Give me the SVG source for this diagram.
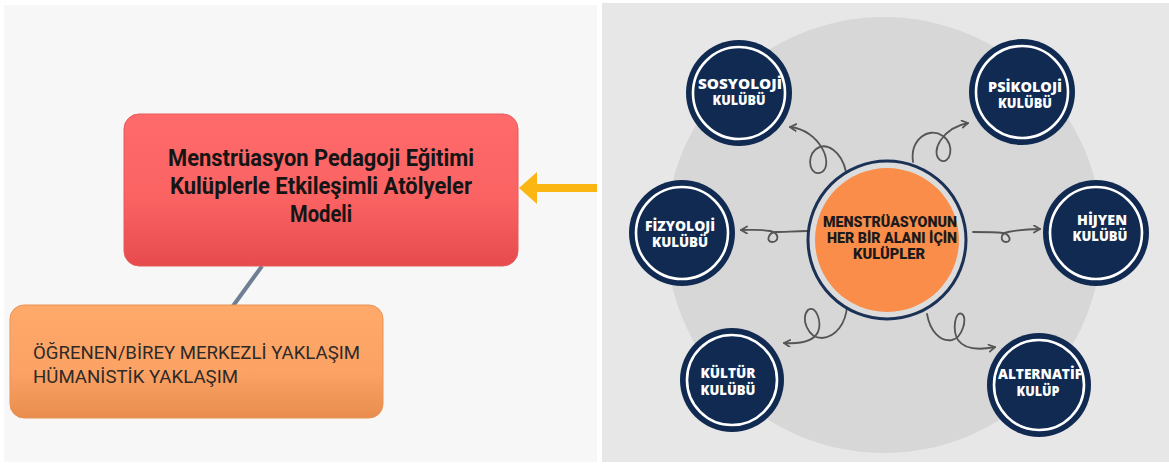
<svg xmlns="http://www.w3.org/2000/svg" width="1169" height="465" viewBox="0 0 1169 465">
<defs>
<linearGradient id="gRed" x1="0" y1="0" x2="0" y2="1">
<stop offset="0" stop-color="#ff6a6a"/><stop offset="0.55" stop-color="#fb6363"/><stop offset="1" stop-color="#e64a4d"/>
</linearGradient>
<linearGradient id="gOr" x1="0" y1="0" x2="0" y2="1">
<stop offset="0" stop-color="#ffa96a"/><stop offset="0.6" stop-color="#fba264"/><stop offset="1" stop-color="#e88d4d"/>
</linearGradient>
<marker id="ah" markerWidth="10" markerHeight="10" refX="7" refY="4" orient="auto" markerUnits="userSpaceOnUse">
<path d="M1,0.5 L7,4 L1,7.5" fill="none" stroke="#555" stroke-width="1.8" stroke-linecap="round" stroke-linejoin="round"/>
</marker>
</defs>
<style>
.lt{font-family:Roboto,"Liberation Sans",sans-serif;font-weight:700;font-size:24px;fill:#151515;text-anchor:middle}
.ot{font-family:Roboto,"Liberation Sans",sans-serif;font-size:19px;fill:#2e2a28}
.sat{fill:#102a52}
.ring{fill:none;stroke:#fff;stroke-width:2.6}
.wt{font-family:"Open Sans","Liberation Sans",sans-serif;font-weight:800;font-size:14px;fill:#fff;text-anchor:middle}
.ct{font-family:Roboto,"Liberation Sans",sans-serif;font-weight:900;font-size:15px;fill:#1c1a1a;text-anchor:middle}
.cur{fill:none;stroke:#555;stroke-width:1.8;stroke-linecap:round;marker-end:url(#ah)}
</style>
<rect width="1169" height="465" fill="#ffffff"/>
<rect x="4" y="5" width="593" height="457" fill="#f7f7f7"/>
<rect x="602" y="3" width="567" height="459" fill="#e7e7e7"/>
<circle cx="884" cy="235" r="218" fill="#d7d7d8"/>

<g id="connectors">
<line x1="262" y1="266" x2="233" y2="306" stroke="#6f7f93" stroke-width="4"/>
<polygon points="519,188 537,172 537,184 597,184 597,192 537,192 537,204" fill="#fcb614"/>
<path class="cur" d="M846,172 C842,152 826,140 815,150 C806,158 810,178 822,172 C834,164 820,130 790,127"/>
<path class="cur" d="M913,162 C910,140 928,126 943,136 C956,145 950,166 940,160 C930,152 942,128 968,123"/>
<path class="cur" d="M807,231 C795,231 785,232 775,232 C768,233 766,242 772,242 C779,242 780,233 770,231 C760,229 750,230 741,230"/>
<path class="cur" d="M973,232 C985,232 995,232 1003,233 C1010,234 1012,242 1006,242 C1000,242 1000,233 1008,232 C1018,230 1028,229 1040,229"/>
<path class="cur" d="M847,306 C846,323 836,337 822,338 C808,338 800,318 808,310 C816,304 822,322 818,332 C813,342 798,344 784,343"/>
<path class="cur" d="M927,314 C930,331 940,342 952,340 C962,338 968,318 962,314 C955,310 952,330 958,340 C965,350 980,350 995,347"/>
</g>

<g id="n-title">
<rect x="124" y="114" width="394" height="152" rx="15" fill="url(#gRed)" stroke="#e65a5a" stroke-width="1"/>
<text class="lt" x="321" y="166" textLength="306" lengthAdjust="spacingAndGlyphs">Menstrüasyon Pedagoji Eğitimi</text>
<text class="lt" x="321" y="194" textLength="302" lengthAdjust="spacingAndGlyphs">Kulüplerle Etkileşimli Atölyeler</text>
<text class="lt" x="321" y="222" textLength="62" lengthAdjust="spacingAndGlyphs">Modeli</text>
</g>

<g id="n-approach">
<rect x="10" y="305" width="373" height="113" rx="14" fill="url(#gOr)" stroke="#e89355" stroke-width="1"/>
<text class="ot" x="33" y="359" textLength="327" lengthAdjust="spacingAndGlyphs">ÖĞRENEN/BİREY MERKEZLİ YAKLAŞIM</text>
<text class="ot" x="33" y="383" textLength="205" lengthAdjust="spacingAndGlyphs">HÜMANİSTİK YAKLAŞIM</text>
</g>

<g id="n-center">
<circle cx="887" cy="240" r="79" fill="#dcdcdc" stroke="#1b3156" stroke-width="3"/>
<circle cx="887" cy="240" r="72" fill="#fa8d49"/>
<text class="ct" x="890" y="227" textLength="134" lengthAdjust="spacingAndGlyphs">MENSTRÜASYONUN</text>
<text class="ct" x="892" y="243" textLength="130" lengthAdjust="spacingAndGlyphs">HER BİR ALANI İÇİN</text>
<text class="ct" x="889" y="259" textLength="72" lengthAdjust="spacingAndGlyphs">KULÜPLER</text>
</g>

<g id="n-sosyoloji">
<circle class="sat" cx="739" cy="93" r="53"/><circle class="ring" cx="739" cy="93" r="46"/>
<text class="wt" x="740" y="89" textLength="84" lengthAdjust="spacingAndGlyphs">SOSYOLOJİ</text>
<text class="wt" x="739" y="105" textLength="53" lengthAdjust="spacingAndGlyphs">KULÜBÜ</text>
</g>
<g id="n-psikoloji">
<circle class="sat" cx="1022" cy="92" r="53"/><circle class="ring" cx="1022" cy="92" r="46"/>
<text class="wt" x="1025" y="92" textLength="74" lengthAdjust="spacingAndGlyphs">PSİKOLOJİ</text>
<text class="wt" x="1025" y="108" textLength="54" lengthAdjust="spacingAndGlyphs">KULÜBÜ</text>
</g>
<g id="n-fizyoloji">
<circle class="sat" cx="682" cy="233" r="53"/><circle class="ring" cx="682" cy="233" r="46"/>
<text class="wt" x="680" y="231" textLength="70" lengthAdjust="spacingAndGlyphs">FİZYOLOJİ</text>
<text class="wt" x="680" y="247" textLength="56" lengthAdjust="spacingAndGlyphs">KULÜBÜ</text>
</g>
<g id="n-hijyen">
<circle class="sat" cx="1096" cy="233" r="53"/><circle class="ring" cx="1096" cy="233" r="46"/>
<text class="wt" x="1102" y="225" textLength="50" lengthAdjust="spacingAndGlyphs">HİJYEN</text>
<text class="wt" x="1100" y="241" textLength="55" lengthAdjust="spacingAndGlyphs">KULÜBÜ</text>
</g>
<g id="n-kultur">
<circle class="sat" cx="732" cy="380" r="52"/><circle class="ring" cx="732" cy="380" r="45"/>
<text class="wt" x="728" y="378" textLength="55" lengthAdjust="spacingAndGlyphs">KÜLTÜR</text>
<text class="wt" x="728" y="395" textLength="55" lengthAdjust="spacingAndGlyphs">KULÜBÜ</text>
</g>
<g id="n-alternatif">
<circle class="sat" cx="1039" cy="385" r="52"/><circle class="ring" cx="1039" cy="385" r="45"/>
<text class="wt" x="1040" y="379" textLength="84" lengthAdjust="spacingAndGlyphs">ALTERNATİF</text>
<text class="wt" x="1038" y="396" textLength="43" lengthAdjust="spacingAndGlyphs">KULÜP</text>
</g>
</svg>
